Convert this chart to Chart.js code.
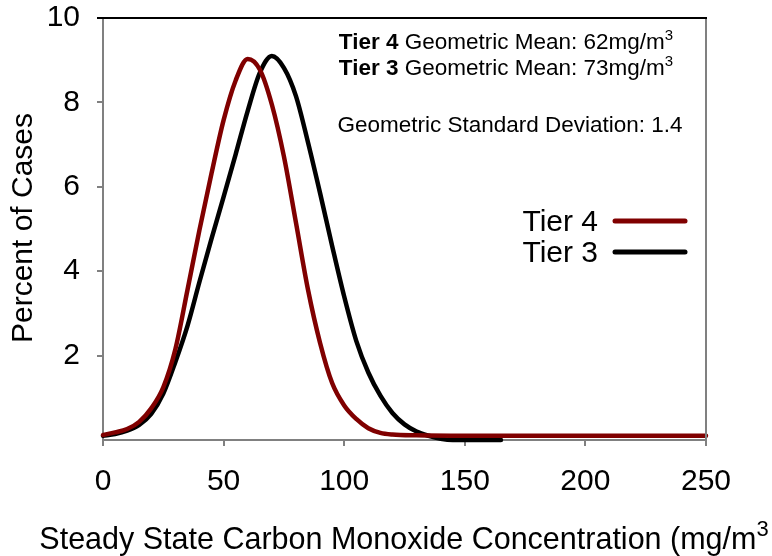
<!DOCTYPE html>
<html>
<head>
<meta charset="utf-8">
<script src="https://cdn.jsdelivr.net/npm/chart.js@4.4.1/dist/chart.umd.min.js"></script>
<style>
  html, body { margin: 0; padding: 0; background: #fff; }
  #wrap { width: 772px; height: 556px; }
</style>
</head>
<body>
<div id="wrap"><canvas id="coChart" width="772" height="556"></canvas></div>
<script>
// values
const tier4X = [0, 5, 10, 15, 20, 25, 30, 35, 40, 45, 50, 55, 60, 65, 70, 75, 80, 85, 90, 95, 100, 105, 110, 115, 120, 130, 150, 175, 200, 225, 250];
const tier4Y = [0.12, 0.18, 0.26, 0.43, 0.75, 1.25, 2.15, 3.55, 4.98, 6.32, 7.58, 8.52, 9.03, 8.78, 7.95, 6.72, 5.15, 3.56, 2.3, 1.35, 0.82, 0.5, 0.28, 0.17, 0.13, 0.11, 0.1, 0.1, 0.1, 0.1, 0.1];

const tier3X = [0, 5, 10, 15, 20, 25, 30, 35, 40, 45, 50, 55, 60, 65, 70, 75, 80, 85, 90, 95, 100, 105, 110, 115, 120, 125, 130, 135, 140, 145, 150, 155, 160, 165];
const tier3Y = [0.1, 0.14, 0.22, 0.36, 0.62, 1.1, 1.85, 2.7, 3.75, 4.77, 5.76, 6.77, 7.8, 8.7, 9.1, 8.82, 8.15, 7.05, 5.85, 4.6, 3.4, 2.35, 1.6, 1.05, 0.64, 0.37, 0.2, 0.1, 0.03, 0, 0, 0, 0, 0];

const seriesNames = ['Tier 4', 'Tier 3'];
const seriesColors = ['#800000', '#000000'];
const xTicks = [0, 50, 100, 150, 200, 250];
const yTicks = [2, 4, 6, 8, 10];

const xTitle = 'Steady State Carbon Monoxide Concentration (mg/m';
const yTitle = 'Percent of Cases';
const notes = [
  ['Tier 4', ' Geometric Mean: 62mg/m', '3'],
  ['Tier 3', ' Geometric Mean: 73mg/m', '3'],
  ['', 'Geometric Standard Deviation: 1.4', '']
];

const FONT = '"Liberation Sans", Arial, sans-serif';

function pts(xs, ys) {
  return xs.map((x, i) => ({ x: x, y: ys[i] }));
}

// draws a run of pieces [text, font, raise] left to right, centred on cx
function drawRun(ctx, pieces, cx, y) {
  let w = 0;
  pieces.forEach(p => { ctx.font = p[1]; w += ctx.measureText(p[0]).width; });
  let x = cx - w / 2;
  pieces.forEach(p => {
    ctx.font = p[1];
    ctx.fillText(p[0], x, y - (p[2] || 0));
    x += ctx.measureText(p[0]).width;
  });
}

const decor = {
  id: 'decor',
  afterDraw(chart) {
    const ctx = chart.ctx;
    const a = chart.chartArea;
    ctx.save();

    // frame: black top line, grey right line
    ctx.lineWidth = 2;
    ctx.strokeStyle = '#808080';
    ctx.beginPath();
    ctx.moveTo(a.right, a.top);
    ctx.lineTo(a.right, a.bottom);
    ctx.stroke();
    ctx.strokeStyle = '#000';
    ctx.beginPath();
    ctx.moveTo(a.left - 6, a.top);
    ctx.lineTo(a.right + 1, a.top);
    ctx.stroke();

    ctx.fillStyle = '#000';
    ctx.textBaseline = 'alphabetic';
    ctx.textAlign = 'left';

    // notes in the upper right
    const noteY = [49, 75, 132];
    notes.forEach((n, i) => {
      const pieces = [];
      if (n[0]) pieces.push([n[0], 'bold 22.5px ' + FONT, 0]);
      pieces.push([n[1], '22.5px ' + FONT, 0]);
      if (n[2]) pieces.push([n[2], '15px ' + FONT, 9]);
      drawRun(ctx, pieces, i < 2 ? 506 : 510, noteY[i]);
    });

    // legend
    const legY = [221, 252];
    chart.data.datasets.forEach((ds, i) => {
      ctx.font = '30px ' + FONT;
      ctx.textAlign = 'right';
      ctx.fillText(ds.label, 598, legY[i] + 10);
      ctx.strokeStyle = ds.borderColor;
      ctx.lineWidth = 5;
      ctx.lineCap = 'round';
      ctx.beginPath();
      ctx.moveTo(615, legY[i]);
      ctx.lineTo(685, legY[i]);
      ctx.stroke();
    });

    // axis titles
    ctx.textAlign = 'left';
    drawRun(ctx, [[xTitle, '30.5px ' + FONT, 0], ['3', '22px ' + FONT, 13]], 404, 549);

    ctx.translate(24, 228);
    ctx.rotate(-Math.PI / 2);
    ctx.textAlign = 'center';
    ctx.textBaseline = 'middle';
    ctx.font = '30px ' + FONT;
    ctx.fillText(yTitle, 0, 0);

    ctx.restore();
  }
};

new Chart(document.getElementById('coChart'), {
  type: 'line',
  data: {
    datasets: [
      {
        label: seriesNames[0],
        data: pts(tier4X, tier4Y),
        borderColor: seriesColors[0],
        borderWidth: 4.5,
        pointRadius: 0,
        fill: false,
        cubicInterpolationMode: 'monotone',
        borderCapStyle: 'round',
        clip: false
      },
      {
        label: seriesNames[1],
        data: pts(tier3X, tier3Y),
        borderColor: seriesColors[1],
        borderWidth: 4.5,
        pointRadius: 0,
        fill: false,
        cubicInterpolationMode: 'monotone',
        borderCapStyle: 'round',
        clip: false
      }
    ]
  },
  options: {
    responsive: false,
    animation: false,
    layout: { padding: { top: 18, right: 66, left: 0, bottom: 0 } },
    plugins: {
      legend: { display: false },
      tooltip: { enabled: false }
    },
    scales: {
      x: {
        type: 'linear',
        min: 0,
        max: 250,
        afterBuildTicks: s => { s.ticks = xTicks.map(v => ({ value: v })); },
        afterFit: s => { s.height = 116; s.paddingLeft = 0; s.paddingRight = 0; },
        grid: { drawOnChartArea: false, tickLength: 6, color: '#808080', lineWidth: 2 },
        border: { color: '#808080', width: 2 },
        ticks: { color: '#000', font: { family: FONT, size: 30 }, padding: 18, maxRotation: 0 }
      },
      y: {
        min: 0,
        max: 10,
        afterBuildTicks: s => { s.ticks = yTicks.map(v => ({ value: v })); },
        afterFit: s => { s.width = 103; s.paddingTop = 0; s.paddingBottom = 0; },
        grid: { drawOnChartArea: false, tickLength: 6, color: '#808080', lineWidth: 2 },
        border: { color: '#808080', width: 2 },
        ticks: { color: '#000', font: { family: FONT, size: 30 }, padding: 17 }
      }
    }
  },
  plugins: [decor]
});
</script>
</body>
</html>
